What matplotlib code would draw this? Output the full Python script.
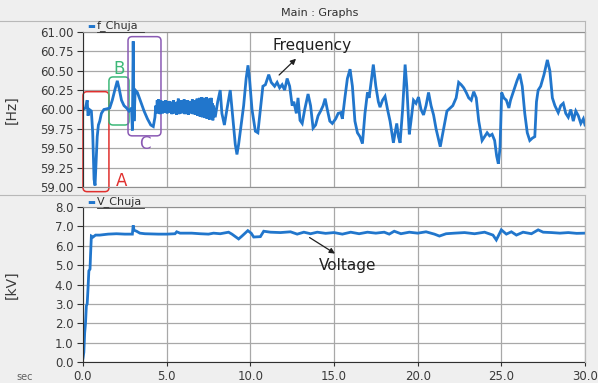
import matplotlib.pyplot as plt
from matplotlib.patches import FancyBboxPatch
from matplotlib.lines import Line2D

# f_Chuja trace, start-up and events A/B/C
t_freq_a = [0.00, 0.15, 0.25, 0.30, 0.38, 0.50, 0.58, 0.66, 0.72, 0.78, 0.85, 0.92, 1.00, 1.10, 1.25,
            1.45, 1.60, 1.75, 1.90, 2.05, 2.15, 2.30, 2.45, 2.60, 2.75, 2.90, 2.95, 3.00, 3.05, 3.12,
            3.25, 3.45, 3.65, 3.85, 4.05, 4.20, 4.30, 4.35]
f_hz_a = [60.00, 60.02, 60.12, 59.92, 60.00, 59.98, 59.70, 59.10, 59.02, 59.30, 59.65, 59.80, 59.85, 59.95, 60.00,
          60.01, 60.02, 60.12, 60.25, 60.37, 60.28, 60.12, 60.05, 60.02, 59.98, 60.02, 59.73, 60.88, 59.85, 60.25,
          60.22, 60.10, 59.98, 59.88, 59.80, 59.78, 59.90, 60.05]

# fast oscillation between 4.4 s and 7.8 s, sampled every 35 ms
f_hz_b = [59.96, 60.12, 59.95, 60.13, 59.97, 60.10, 59.94, 60.12, 59.98, 60.09,
          59.95, 60.11, 59.99, 60.08, 59.96, 60.12, 59.97, 60.10, 59.95, 60.09,
          59.98, 60.11, 59.96, 60.08, 59.99, 60.10, 59.94, 60.07, 59.97, 60.12,
          59.95, 60.09, 59.98, 60.06, 59.93, 60.10, 59.96, 60.14, 59.94, 60.08,
          59.97, 60.11, 59.95, 60.12, 59.98, 60.09, 59.96, 60.13, 59.94, 60.10,
          59.97, 60.08, 59.95, 60.12, 59.93, 60.09, 59.98, 60.11, 59.95, 60.10,
          59.96, 60.13, 59.94, 60.07, 59.97, 60.12, 59.93, 60.10, 59.96, 60.14,
          59.92, 60.09, 59.95, 60.15, 59.91, 60.10, 59.94, 60.16, 59.90, 60.12,
          59.93, 60.15, 59.89, 60.11, 59.92, 60.16, 59.88, 60.13, 59.91, 60.14,
          59.87, 60.10, 59.90, 60.15, 59.88, 60.08, 59.86, 60.05]
t_freq_b = [round(4.40 + 0.035 * i, 3) for i in range(len(f_hz_b))]

# f_Chuja trace, 7.9 s to 30 s
t_freq_c = [7.90, 8.05, 8.20, 8.30, 8.45, 8.60, 8.80, 8.95, 9.10, 9.20, 9.30, 9.45, 9.60, 9.75, 9.86,
            9.95, 10.10, 10.30, 10.45, 10.60, 10.75, 10.90, 11.10, 11.25, 11.45, 11.60, 11.75, 11.90,
            12.05, 12.20, 12.35, 12.50, 12.60, 12.75, 12.85, 12.97, 13.10, 13.25, 13.45, 13.60, 13.75,
            13.90, 14.05, 14.20, 14.35, 14.47, 14.60, 14.75, 14.90, 15.10, 15.25, 15.40, 15.50, 15.65,
            15.80, 15.96, 16.10, 16.25, 16.40, 16.55, 16.70, 16.85, 17.00, 17.10, 17.35, 17.50, 17.65,
            17.75, 17.90, 18.05, 18.20, 18.35, 18.55, 18.65, 18.75, 18.85, 18.95, 19.10, 19.25, 19.35,
            19.50, 19.60, 19.75, 19.90, 20.05, 20.20, 20.35, 20.50, 20.65, 20.80, 20.95, 21.10, 21.35,
            21.55, 21.75, 21.95, 22.10, 22.30, 22.45, 22.60, 22.75, 22.90, 23.05, 23.20, 23.35, 23.50,
            23.65, 23.85, 24.00, 24.15, 24.30, 24.45, 24.60, 24.72, 24.82, 24.92, 25.02, 25.15, 25.30,
            25.45, 25.55, 25.75, 25.95, 26.10, 26.25, 26.40, 26.55, 26.70, 26.85, 27.00, 27.10, 27.20,
            27.35, 27.55, 27.75, 27.90, 28.05, 28.20, 28.40, 28.55, 28.70, 28.85, 29.00, 29.15, 29.30,
            29.45, 29.60, 29.75, 29.90, 30.00]
f_hz_c = [59.90, 60.10, 60.25, 59.95, 59.80, 60.00, 60.25, 59.90, 59.55, 59.42, 59.55, 59.80, 60.05, 60.40, 60.57,
          60.40, 60.00, 59.72, 59.70, 60.00, 60.30, 60.32, 60.45, 60.35, 60.30, 60.35, 60.28, 60.32,
          60.25, 60.40, 60.30, 60.05, 60.10, 59.95, 60.15, 59.86, 59.82, 60.00, 60.20, 60.05, 59.76,
          59.80, 59.92, 59.98, 60.05, 60.14, 60.00, 59.85, 59.82, 59.88, 59.95, 59.96, 59.88, 60.15,
          60.40, 60.52, 60.30, 59.85, 59.70, 59.65, 59.56, 59.95, 60.22, 60.15, 60.58, 60.30, 60.10,
          60.03, 60.12, 60.17, 60.00, 59.85, 59.57, 59.70, 59.82, 59.65, 59.57, 60.00, 60.58, 60.30,
          59.68, 59.85, 60.12, 60.08, 60.16, 60.00, 59.93, 60.05, 60.22, 60.05, 59.93, 59.75, 59.52,
          59.75, 59.98, 60.02, 60.05, 60.15, 60.35, 60.32, 60.28, 60.22, 60.15, 60.12, 60.23, 60.15,
          59.85, 59.60, 59.65, 59.70, 59.66, 59.68, 59.60, 59.40, 59.30, 59.50, 60.22, 60.15, 60.12,
          60.02, 60.12, 60.25, 60.38, 60.46, 60.30, 59.95, 59.70, 59.60, 59.63, 59.65, 60.10, 60.25,
          60.30, 60.45, 60.64, 60.50, 60.15, 60.05, 59.96, 60.05, 60.08, 59.95, 59.90, 60.00, 59.85,
          59.98, 59.92, 59.82, 59.88, 59.80]

t_freq = t_freq_a + t_freq_b + t_freq_c
f_hz = f_hz_a + f_hz_b + f_hz_c

# V_Chuja trace
t_volt = [0.00, 0.05, 0.10, 0.15, 0.20, 0.25, 0.30, 0.35, 0.42, 0.45, 0.50, 0.60, 0.75, 1.00, 1.50,
          2.00, 2.50, 2.95, 3.00, 3.05, 3.20, 3.40, 3.70, 4.50, 5.00, 5.50, 5.60, 5.80, 6.50, 7.00,
          7.50, 7.80, 8.20, 8.70, 8.90, 9.30, 9.50, 9.85, 10.05, 10.20, 10.60, 10.80, 11.20, 11.80,
          12.40, 12.80, 13.20, 13.60, 14.00, 14.50, 15.00, 15.50, 16.00, 16.50, 17.00, 17.50, 18.00,
          18.30, 18.60, 19.00, 19.50, 20.00, 20.50, 21.00, 21.30, 21.70, 22.20, 22.80, 23.40, 24.00,
          24.50, 24.70, 25.00, 25.30, 25.60, 25.90, 26.30, 26.80, 27.20, 27.50, 28.00, 28.50, 29.00,
          29.50, 30.00]
v_kv = [0.20, 0.50, 1.50, 2.00, 2.90, 3.00, 3.80, 4.70, 4.80, 5.50, 6.50, 6.45, 6.55, 6.55, 6.60,
        6.62, 6.60, 6.60, 7.05, 6.80, 6.75, 6.65, 6.62, 6.60, 6.60, 6.62, 6.72, 6.65, 6.65, 6.62,
        6.60, 6.65, 6.62, 6.70, 6.60, 6.35, 6.50, 6.78, 6.65, 6.45, 6.47, 6.75, 6.70, 6.68,
        6.72, 6.60, 6.70, 6.62, 6.70, 6.64, 6.68, 6.60, 6.70, 6.62, 6.70, 6.65, 6.70,
        6.60, 6.75, 6.62, 6.70, 6.65, 6.72, 6.60, 6.50, 6.62, 6.65, 6.68, 6.62, 6.70,
        6.55, 6.30, 6.82, 6.60, 6.72, 6.55, 6.70, 6.62, 6.82, 6.70, 6.68, 6.65, 6.68,
        6.64, 6.65]

f_ticks = [59.00, 59.25, 59.50, 59.75, 60.00, 60.25, 60.50, 60.75, 61.00]
v_ticks = [0.0, 1.0, 2.0, 3.0, 4.0, 5.0, 6.0, 7.0, 8.0]
t_ticks = [0.0, 5.0, 10.0, 15.0, 20.0, 25.0, 30.0]

line_color = '#2176cc'
grid_color = '#a8a8a8'
text_color = '#3a3a3a'

fig = plt.figure(figsize=(5.98, 3.83), dpi=100, facecolor='#efefef')
W, H = 598.0, 383.0

def px_axes(x0, y0, x1, y1):
    return fig.add_axes([x0 / W, 1 - y1 / H, (x1 - x0) / W, (y1 - y0) / H])

ax1 = px_axes(83, 32, 585, 187)
ax2 = px_axes(83, 207, 585, 362)

for ax, ticks in ((ax1, f_ticks), (ax2, v_ticks)):
    ax.set_facecolor('white')
    ax.set_xlim(0, 30)
    ax.set_xticks(t_ticks)
    ax.set_yticks(ticks)
    ax.set_ylim(ticks[0], ticks[-1])
    ax.grid(True, color=grid_color, linewidth=0.9)
    ax.set_axisbelow(True)
    for s in ax.spines.values():
        s.set_color('#909090')
        s.set_linewidth(0.8)
    ax.spines['left'].set_color('#303030')
    ax.tick_params(axis='y', length=4, width=0.8, color='#303030', labelsize=8.5,
                   labelcolor=text_color, pad=3)
    ax.tick_params(axis='x', length=3, width=0.8, color='#303030', labelsize=8.5,
                   labelcolor=text_color, pad=3)

ax1.tick_params(axis='x', labelbottom=False, length=0)
ax1.set_yticklabels(['%.2f' % v for v in f_ticks])
ax2.set_yticklabels(['%.1f' % v for v in v_ticks])
ax2.set_xticklabels(['%.1f' % v for v in t_ticks])
ax2.spines['bottom'].set_color('#303030')

ax1.plot(t_freq, f_hz, color=line_color, linewidth=2.0, solid_joinstyle='miter')
ax2.plot(t_volt, v_kv, color=line_color, linewidth=2.0, solid_joinstyle='miter')

ax1.set_ylabel('[Hz]', fontsize=10, color=text_color)
ax2.set_ylabel('[kV]', fontsize=10, color=text_color)
ax1.yaxis.set_label_coords(-0.129, 0.5)
ax2.yaxis.set_label_coords(-0.129, 0.5)
fig.text(25 / W, 1 - 377 / H, 'sec', fontsize=7, color='#606060', ha='center', va='center')

# header and legend strips
fig.text(320 / W, 1 - 13 / H, 'Main : Graphs', fontsize=8, color='#303030', ha='center', va='center')
fig.add_artist(Line2D([0, 585 / W], [1 - 20.5 / H] * 2, color='#b8b8b8', linewidth=0.8))
fig.add_artist(Line2D([585 / W] * 2, [1 - 20.5 / H, 1 - 187 / H], color='#b8b8b8', linewidth=0.8))
fig.add_artist(Line2D([0, 585 / W], [1 - 195 / H] * 2, color='#b8b8b8', linewidth=0.8))
fig.add_artist(Line2D([585 / W] * 2, [1 - 195 / H, 1 - 362 / H], color='#b8b8b8', linewidth=0.8))

for name, y in (('f_Chuja', 26), ('V_Chuja', 202)):
    fig.text(87 / W, 1 - y / H, '\u25ac', fontsize=6, color=line_color, ha='left', va='center')
    fig.text(97 / W, 1 - y / H, name, fontsize=8, color='#303030', ha='left', va='center')
    fig.add_artist(Line2D([97 / W, 144 / W], [1 - (y + 6) / H] * 2, color='#303030', linewidth=0.6))

# event boxes A, B, C
boxes = [((0.0, 58.94), 1.55, 1.29, '#e0302e', 'A', (2.3, 59.08)),
         ((1.55, 59.80), 1.20, 0.62, '#3cb878', 'B', (2.15, 60.52)),
         ((2.69, 59.66), 1.97, 1.28, '#8a5ab4', 'C', (3.7, 59.56))]
for (x0, y0), w, h, col, lab, (lx, ly) in boxes:
    ax1.add_patch(FancyBboxPatch((x0, y0), w, h, boxstyle='round,pad=0,rounding_size=0.25',
                                 fill=False, edgecolor=col, linewidth=1.1, clip_on=False,
                                 mutation_aspect=0.21))
    ax1.text(lx, ly, lab, color=col, fontsize=12, ha='center', va='center')

ax1.annotate('', xy=(12.85, 60.68), xytext=(11.6, 60.42),
             arrowprops=dict(arrowstyle='-|>', color='#202020', linewidth=0.9, mutation_scale=8))
ax1.text(11.35, 60.82, 'Frequency', fontsize=11, color='#202020', ha='left', va='center')
ax2.annotate('', xy=(15.2, 5.52), xytext=(13.4, 6.5),
             arrowprops=dict(arrowstyle='-|>', color='#202020', linewidth=0.9, mutation_scale=8))
ax2.text(14.1, 5.0, 'Voltage', fontsize=11, color='#202020', ha='left', va='center')

fig.savefig('out.png', dpi=100, facecolor=fig.get_facecolor())
